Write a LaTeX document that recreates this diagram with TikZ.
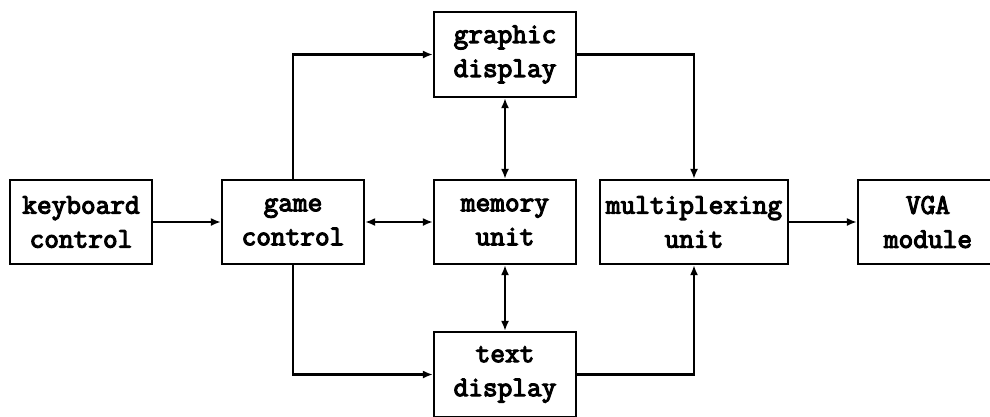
\documentclass[tikz,border=0pt]{standalone}
\usepackage{fontspec}
\newfontfamily\boxfont{Latin Modern Mono}[FakeBold=4]
\usetikzlibrary{arrows.meta}
\begin{document}
\begin{tikzpicture}[x=1pt,y=-1pt,
  blk/.style={draw, line width=2.2pt, inner sep=0pt, align=center,
    font=\boxfont\fontsize{28.5}{34}\selectfont},
  arr/.style={line width=2.2pt, -{Latex[length=10pt,width=8pt]}},
  barr/.style={line width=2.2pt, {Latex[length=10pt,width=8pt]}-{Latex[length=10pt,width=8pt]}}]
\useasboundingbox (0,0) rectangle (990,416);
\node[blk, minimum width=142pt, minimum height=84pt] (kb) at (81,222) {keyboard\\control};
\node[blk, minimum width=142pt, minimum height=84pt] (gc) at (293,222) {game\\control};
\node[blk, minimum width=142pt, minimum height=85pt] (gd) at (505,54.5) {graphic\\display};
\node[blk, minimum width=142pt, minimum height=84pt] (mu) at (505,222) {memory\\unit};
\node[blk, minimum width=188pt, minimum height=84pt] (mx) at (694,222) {multiplexing\\unit};
\node[blk, minimum width=140pt, minimum height=84pt] (vga) at (928,222) {VGA\\module};
\node[blk, minimum width=142pt, minimum height=85pt] (td) at (505,374.5) {text\\display};
\draw[arr] (kb.east) -- (gc.west);
\draw[barr] (gc.east) -- (mu.west);
\draw[arr] (gc.north) |- (gd.west);
\draw[arr] (gd.east) -| (mx.north);
\draw[barr] (gd.south) -- (mu.north);
\draw[barr] (mu.south) -- (td.north);
\draw[arr] (gc.south) |- (td.west);
\draw[arr] (td.east) -| (mx.south);
\draw[arr] (mx.east) -- (vga.west);
\end{tikzpicture}
\end{document}
